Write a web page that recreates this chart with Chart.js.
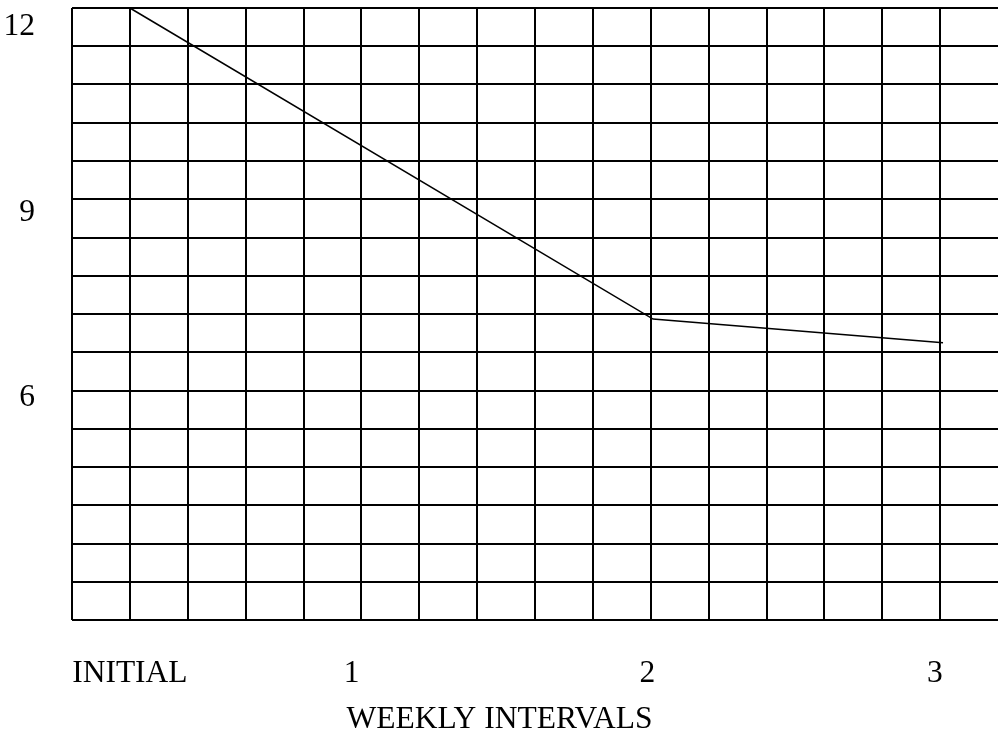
<!DOCTYPE html>
<html>
<head>
<meta charset="utf-8">
<script src="https://cdn.jsdelivr.net/npm/chart.js@4.4.0/dist/chart.umd.min.js"></script>
<style>
  html, body { margin: 0; padding: 0; background: #fff; overflow: hidden; }
  #wrap { width: 998px; height: 732px; }
</style>
</head>
<body>
<div id="wrap"><canvas id="chart"></canvas></div>
<script>
// x positions are in grid columns (the drawing is not evenly spaced per week)
const weekLabels = ['INITIAL', '1', '2', '3'];
const weekTicks = [1, 4.83, 9.94, 14.91];
const xValues = [1, 10.04, 15.05];
const yValues = [12, 7.12, 6.75];
const yLabels = [12, 9, 6];

const serif = '"Liberation Serif", "Times New Roman", serif';
const labelFont = { family: serif, size: 31.5 };

// grid: 16 columns, 16 rows of 0.6
const colTicks = [];
for (let i = 0; i <= 15; i++) colTicks.push(i);
const rowTicks = [];
for (let i = 0; i <= 16; i++) rowTicks.push(+(2.4 + i * 0.6).toFixed(2));

function noPad(s) {
    s.paddingLeft = 0;
    s.paddingRight = 0;
    s.paddingTop = 0;
    s.paddingBottom = 0;
}

new Chart(document.getElementById('chart'), {
    type: 'line',
    data: {
        datasets: [{
            data: xValues.map((x, i) => ({ x: x, y: yValues[i] })),
            xAxisID: 'x',
            yAxisID: 'y',
            borderColor: '#000',
            borderWidth: 1.5,
            pointRadius: 0,
            tension: 0,
            fill: false,
            clip: false
        }]
    },
    options: {
        responsive: true,
        maintainAspectRatio: false,
        animation: false,
        layout: { padding: { top: 8, left: 0, right: 0, bottom: 0 } },
        plugins: { legend: { display: false }, tooltip: { enabled: false } },
        scales: {
            x: {
                type: 'linear',
                position: 'bottom',
                min: 0,
                max: 16,
                grid: { color: '#000', lineWidth: 2, drawTicks: false },
                border: { display: false },
                ticks: { display: false },
                afterBuildTicks: s => { s.ticks = colTicks.map(v => ({ value: v })); },
                afterFit: s => { s.height = 0; noPad(s); }
            },
            xl: {
                type: 'linear',
                position: 'bottom',
                min: 0,
                max: 16,
                grid: { display: false, drawTicks: false },
                border: { display: false },
                ticks: {
                    font: labelFont,
                    color: '#000',
                    padding: 35,
                    maxRotation: 0,
                    autoSkip: false,
                    callback: (v, i) => weekLabels[i]
                },
                title: {
                    display: true,
                    // trailing spaces pull the centred title left, as in the original
                    text: 'WEEKLY INTERVALS' + '\u00A0'.repeat(9),
                    font: { family: serif, size: 31.5, lineHeight: 0.8 },
                    color: '#000',
                    padding: 0
                },
                afterBuildTicks: s => { s.ticks = weekTicks.map(v => ({ value: v })); },
                afterFit: s => { s.height = 112; noPad(s); }
            },
            y: {
                type: 'linear',
                position: 'left',
                min: 2.4,
                max: 12,
                grid: { color: '#000', lineWidth: 2, drawTicks: false },
                border: { display: false },
                ticks: { display: false },
                afterBuildTicks: s => { s.ticks = rowTicks.map(v => ({ value: v })); },
                afterFit: s => { s.width = 0; noPad(s); }
            },
            yl: {
                type: 'linear',
                position: 'left',
                min: 2.41,
                max: 12.307,
                grid: { display: false, drawTicks: false },
                border: { display: false },
                ticks: {
                    font: labelFont,
                    color: '#000',
                    padding: 37,
                    callback: v => String(v)
                },
                afterBuildTicks: s => { s.ticks = yLabels.map(v => ({ value: v })); },
                afterFit: s => { s.width = 72; noPad(s); }
            }
        }
    }
});
</script>
</body>
</html>
